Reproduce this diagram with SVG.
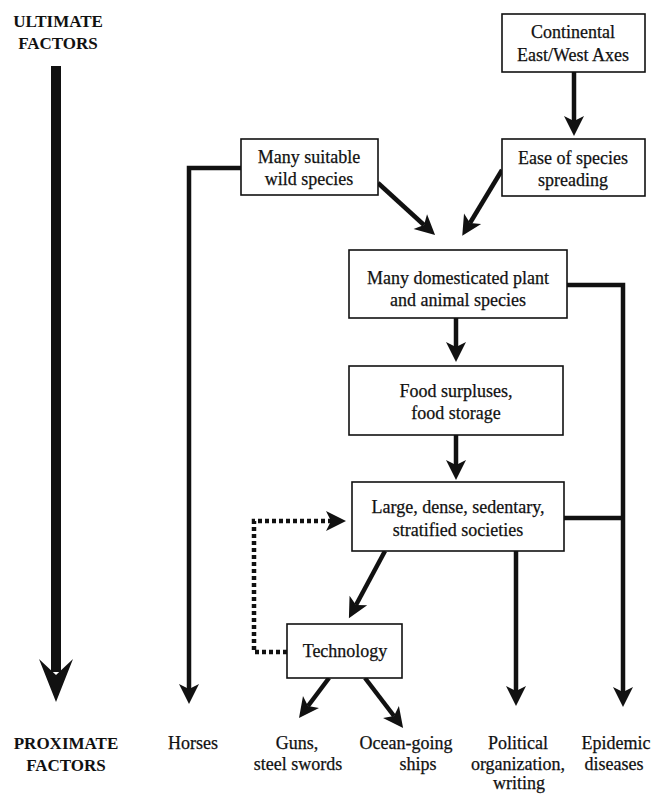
<svg xmlns="http://www.w3.org/2000/svg" width="655" height="795" viewBox="0 0 655 795">
  <defs>
    <style>
      .box { fill: #fff; stroke: #111; stroke-width: 1.6; }
      .lbl { font-family: "Liberation Serif", "Times New Roman", serif; font-size: 18px; fill: #111; stroke: #111; stroke-width: 0.25; text-anchor: middle; }
      .head { font-family: "Liberation Serif", "Times New Roman", serif; font-size: 17px; font-weight: bold; fill: #111; text-anchor: middle; }
      .wire { fill: none; stroke: #111; stroke-width: 4.5; stroke-linejoin: miter; }
      .dots { fill: none; stroke: #111; stroke-width: 4.5; stroke-dasharray: 4 3; }
    </style>
    <!-- barbed arrowhead; the line ends at the notch, the tip sits 15 units beyond -->
    <marker id="arrow" viewBox="-6 -11 22 22" refX="0" refY="0" markerWidth="22" markerHeight="22" markerUnits="userSpaceOnUse" orient="auto">
      <path d="M15,0 L-5,-10 L0,0 L-5,10 Z" fill="#111"/>
    </marker>
  </defs>

  <rect width="655" height="795" fill="#fff"/>

  <!-- side scale: ultimate to proximate -->
  <g id="scale">
    <text class="head" x="58" y="27">ULTIMATE</text>
    <text class="head" x="58" y="49">FACTORS</text>
    <rect x="51" y="66" width="10" height="606" fill="#111"/>
    <path d="M56,702 L39,659 L56,675 L73,659 Z" fill="#111"/>
    <text class="head" x="66" y="749">PROXIMATE</text>
    <text class="head" x="66" y="771">FACTORS</text>
  </g>

  <!-- connectors -->
  <g id="connectors">
    <line class="wire" x1="574" y1="72" x2="574" y2="121" marker-end="url(#arrow)"/>
    <line class="wire" x1="378" y1="183" x2="424" y2="225" marker-end="url(#arrow)"/>
    <line class="wire" x1="502" y1="170" x2="470" y2="223" marker-end="url(#arrow)"/>
    <polyline class="wire" points="241,168 189,168 189,689" marker-end="url(#arrow)"/>
    <polyline class="wire" points="567,285 623,285 623,692" marker-end="url(#arrow)"/>
    <line class="wire" x1="564" y1="518" x2="623" y2="518"/>
    <line class="wire" x1="456" y1="318" x2="456" y2="347" marker-end="url(#arrow)"/>
    <line class="wire" x1="456" y1="435" x2="456" y2="465" marker-end="url(#arrow)"/>
    <line class="wire" x1="516" y1="551" x2="516" y2="691" marker-end="url(#arrow)"/>
    <line class="wire" x1="385" y1="551" x2="356" y2="605" marker-end="url(#arrow)"/>
    <line class="wire" x1="329" y1="678" x2="308" y2="706" marker-end="url(#arrow)"/>
    <line class="wire" x1="365" y1="678" x2="394" y2="716" marker-end="url(#arrow)"/>
    <polyline class="dots" points="287,652 254,652 254,521 331,521" marker-end="url(#arrow)"/>
  </g>

  <g id="continental">
    <rect class="box" x="502" y="14" width="143" height="58"/>
    <text class="lbl" x="573" y="38">Continental</text>
    <text class="lbl" x="573" y="61">East/West Axes</text>
  </g>

  <g id="ease">
    <rect class="box" x="502" y="139" width="143" height="57"/>
    <text class="lbl" x="573" y="164">Ease of species</text>
    <text class="lbl" x="573" y="186">spreading</text>
  </g>

  <g id="wild">
    <rect class="box" x="241" y="139" width="137" height="56"/>
    <text class="lbl" x="309" y="163">Many suitable</text>
    <text class="lbl" x="309" y="185">wild species</text>
  </g>

  <g id="domesticated">
    <rect class="box" x="349" y="250" width="218" height="68"/>
    <text class="lbl" x="458" y="284">Many domesticated plant</text>
    <text class="lbl" x="458" y="306">and animal species</text>
  </g>

  <g id="food">
    <rect class="box" x="349" y="366" width="214" height="69"/>
    <text class="lbl" x="456" y="397">Food surpluses,</text>
    <text class="lbl" x="456" y="419">food storage</text>
  </g>

  <g id="societies">
    <rect class="box" x="352" y="482" width="212" height="69"/>
    <text class="lbl" x="458" y="513">Large, dense, sedentary,</text>
    <text class="lbl" x="458" y="536">stratified societies</text>
  </g>

  <g id="technology">
    <rect class="box" x="287" y="624" width="115" height="54"/>
    <text class="lbl" x="345" y="657">Technology</text>
  </g>

  <g id="outcomes">
    <text class="lbl" x="193" y="749">Horses</text>
    <text class="lbl" x="297" y="749">Guns,</text>
    <text class="lbl" x="298" y="770">steel swords</text>
    <text class="lbl" x="406" y="749">Ocean-going</text>
    <text class="lbl" x="418" y="770">ships</text>
    <text class="lbl" x="518" y="749">Political</text>
    <text class="lbl" x="518" y="770">organization,</text>
    <text class="lbl" x="519" y="789">writing</text>
    <text class="lbl" x="616" y="749">Epidemic</text>
    <text class="lbl" x="614" y="770">diseases</text>
  </g>
</svg>
